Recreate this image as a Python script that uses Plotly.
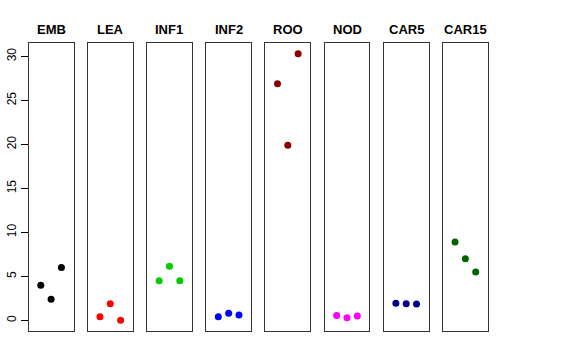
import plotly.graph_objects as go

categories = ["EMB", "LEA", "INF1", "INF2", "ROO", "NOD", "CAR5", "CAR15"]
colors = ["#000000", "#FF0000", "#00CD00", "#0000FF", "#8B0000", "#FF00FF", "#00008B", "#006400"]
values = [
    [4.0, 2.4, 6.0],
    [0.4, 1.9, 0.0],
    [4.5, 6.15, 4.5],
    [0.4, 0.8, 0.6],
    [26.9, 19.9, 30.3],
    [0.55, 0.3, 0.5],
    [1.95, 1.9, 1.85],
    [8.9, 7.0, 5.5],
]
positions = [1, 2, 3]
y_ticks = [0, 5, 10, 15, 20, 25, 30]

W, H = 576, 360
left0, step, width = 28.7, 59.18, 44.8
top_px, bot_px = 43.3, 331.0
ydom = [(H - bot_px) / H, (H - top_px) / H]
yrange = [-1.21, 31.5]

fig = go.Figure()
annotations = []
for i, (cat, col, vals) in enumerate(zip(categories, colors, values)):
    n = i + 1
    xa = "x" if n == 1 else f"x{n}"
    ya = "y" if n == 1 else f"y{n}"
    fig.add_trace(go.Scatter(
        x=positions, y=vals, mode="markers",
        marker=dict(color=col, size=7, line=dict(width=0)),
        xaxis=xa, yaxis=ya, showlegend=False, hoverinfo="skip",
    ))
    x0 = (left0 + i * step) / W
    x1 = (left0 + i * step + width) / W
    xkey = "xaxis" if n == 1 else f"xaxis{n}"
    ykey = "yaxis" if n == 1 else f"yaxis{n}"
    fig.layout[xkey] = dict(
        domain=[x0, x1], range=[2 - 2.17, 2 + 2.17], showgrid=False, zeroline=False,
        showticklabels=False, ticks="", showline=True, mirror=True,
        linecolor="#333333", linewidth=1, anchor=ya, fixedrange=True,
    )
    yax = dict(
        domain=ydom, range=yrange, showgrid=False, zeroline=False,
        showline=True, mirror=True, linecolor="#333333", linewidth=1,
        anchor=xa, fixedrange=True, automargin=False,
    )
    if n == 1:
        yax.update(
            tickmode="array", tickvals=y_ticks, ticktext=[str(t) for t in y_ticks],
            ticks="outside", ticklen=7, tickcolor="#000000", tickwidth=1,
            tickangle=-90, showticklabels=True,
            tickfont=dict(family="Liberation Sans, Arial, sans-serif", size=12, color="#000000"),
        )
    else:
        yax.update(showticklabels=False, ticks="")
    fig.layout[ykey] = yax
    annotations.append(dict(
        text=f"<b>{cat}</b>", x=(x0 + x1) / 2, y=(H - 29) / H,
        xref="paper", yref="paper", showarrow=False, xanchor="center", yanchor="middle",
        font=dict(family="Liberation Sans, Arial, sans-serif", size=13, color="#000000"),
    ))

fig.update_layout(
    width=W, height=H, margin=dict(l=0, r=0, t=0, b=0),
    paper_bgcolor="white", plot_bgcolor="white",
    annotations=annotations,
)
fig.write_html(
    "out.html",
    config={"displayModeBar": False, "staticPlot": True},
    post_script="document.body.style.margin='0';document.body.style.padding='0';",
)
